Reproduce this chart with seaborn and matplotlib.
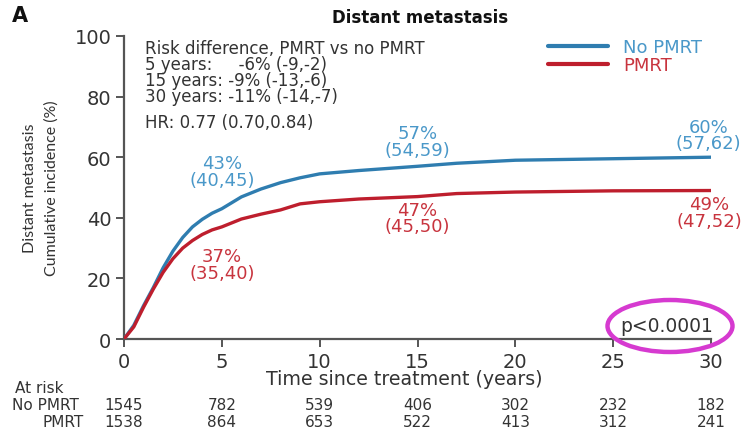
import numpy as np
import pandas as pd
import matplotlib
matplotlib.use("Agg")
import matplotlib.pyplot as plt
import matplotlib.transforms as mtransforms
from matplotlib.patches import Ellipse
import seaborn as sns

# Cumulative incidence curves (years, %)
years_no_pmrt = [0, 0.5, 1, 1.5, 2, 2.5, 3, 3.5, 4, 4.5, 5, 6, 7, 8, 9, 10, 12, 15, 17, 20, 25, 30]
inc_no_pmrt = [0, 4.5, 11, 17, 23.5, 29, 33.5, 37, 39.5, 41.5, 43, 46.9, 49.5, 51.6, 53.2, 54.5, 55.6, 57, 58, 59, 59.5, 60]
years_pmrt = [0, 0.5, 1, 1.5, 2, 2.5, 3, 3.5, 4, 4.5, 5, 6, 7, 8, 9, 10, 12, 15, 17, 20, 25, 30]
inc_pmrt = [0, 4, 10.5, 16.5, 22, 26.5, 30, 32.5, 34.5, 36, 37, 39.6, 41.2, 42.6, 44.6, 45.3, 46.2, 47, 48, 48.5, 48.9, 49]

# Point estimates with confidence intervals at 5, 15 and 30 years
milestone_years = [5, 15, 30]
est_no_pmrt = [43, 57, 60]
ci_no_pmrt = [(40, 45), (54, 59), (57, 62)]
est_pmrt = [37, 47, 49]
ci_pmrt = [(35, 40), (45, 50), (47, 52)]

# Numbers at risk
risk_years = [0, 5, 10, 15, 20, 25, 30]
at_risk_no_pmrt = [1545, 782, 539, 406, 302, 232, 182]
at_risk_pmrt = [1538, 864, 653, 522, 413, 312, 241]

x_ticks = [0, 5, 10, 15, 20, 25, 30]
y_ticks = [0, 20, 40, 60, 80, 100]

risk_lines = ["Risk difference, PMRT vs no PMRT",
              "5 years:     -6% (-9,-2)",
              "15 years: -9% (-13,-6)",
              "30 years: -11% (-14,-7)"]
hr_text = "HR: 0.77 (0.70,0.84)"

BLUE = "#2F7DB0"
RED = "#BE1E2D"
BLUE_TXT = "#4A98C9"
RED_TXT = "#C8343E"
INK = "#333333"

sns.set_style("ticks")
plt.rcParams["font.family"] = ["DejaVu Sans"]

W, H = 745, 431
fig = plt.figure(figsize=(W / 100, H / 100), dpi=100)


def fx(px):
    return px / W


def fy(py):
    return 1 - py / H


ax = fig.add_axes([fx(124), fy(340), fx(711) - fx(124), fy(37) - fy(340)])

df = pd.concat([
    pd.DataFrame({"years": years_no_pmrt, "incidence": inc_no_pmrt, "group": "No PMRT"}),
    pd.DataFrame({"years": years_pmrt, "incidence": inc_pmrt, "group": "PMRT"}),
])
sns.lineplot(data=df, x="years", y="incidence", hue="group",
             palette={"No PMRT": BLUE, "PMRT": RED}, linewidth=2.4,
             ax=ax, legend=True, zorder=3)

ax.set_xlim(0, 30)
ax.set_ylim(0, 100)
ax.set_xticks(x_ticks)
ax.set_yticks(y_ticks)
ax.set_xlabel("")
ax.set_ylabel("")
for side in ("top", "right"):
    ax.spines[side].set_visible(False)
for side in ("left", "bottom"):
    ax.spines[side].set_color("#555555")
    ax.spines[side].set_linewidth(1.6)
ax.tick_params(axis="both", length=6, width=1.4, color="#555555",
               labelsize=14, labelcolor=INK, pad=3)
ax.margins(0)

# Legend
handles, labels = ax.get_legend_handles_labels()
leg = ax.legend(handles, labels, loc="upper left",
                bbox_to_anchor=(fx(548), fy(39)), bbox_transform=fig.transFigure,
                frameon=False, fontsize=13, handlelength=3.3, handletextpad=0.85,
                labelspacing=0.0, borderpad=0, borderaxespad=0,
                labelcolor=[BLUE_TXT, RED_TXT])
for line in leg.get_lines():
    line.set_linewidth(3)

# Milestone labels
for t, est, ci, dy in zip(milestone_years, est_no_pmrt, ci_no_pmrt, [27, 18, 16]):
    ax.annotate(f"{est}%\n({ci[0]},{ci[1]})", xy=(t, est), xytext=(-2 if t == 30 else 0, dy),
                textcoords="offset points", ha="center", va="center",
                color=BLUE_TXT, fontsize=13, linespacing=0.9, annotation_clip=False)
for t, est, ci, dy in zip(milestone_years, est_pmrt, ci_pmrt, [-27, -15.5, -16]):
    ax.annotate(f"{est}%\n({ci[0]},{ci[1]})", xy=(t, est), xytext=(-1 if t == 30 else 0, dy),
                textcoords="offset points", ha="center", va="center",
                color=RED_TXT, fontsize=13, linespacing=0.9, annotation_clip=False)

# Risk difference block
fig.text(fx(145), fy(73), "\n".join(risk_lines), fontsize=12, color=INK,
         ha="left", va="center", linespacing=0.86)
fig.text(fx(145), fy(123), hr_text, fontsize=12, color=INK, ha="left", va="center")

# Title, panel letter, axis labels
fig.text(fx(420), fy(18), "Distant metastasis", fontsize=12, fontweight="bold",
         color="#111111", ha="center", va="center")
fig.text(fx(12), fy(16), "A", fontsize=15, fontweight="bold", color="#111111",
         ha="left", va="center")
fig.text(fx(41), fy(188), "Distant metastasis\nCumulative incidence (%)",
         rotation=90, family="Lato", fontsize=11.5, color=INK, ha="center",
         va="center", linespacing=1.7)
fig.text(fx(404), fy(380), "Time since treatment (years)", fontsize=13.7,
         color=INK, ha="center", va="center")

# p-value with highlight ellipse
fig.text(fx(713), fy(327), "p<0.0001", fontsize=13.5, color=INK, ha="right", va="center")
fig.add_artist(Ellipse((fx(670), fy(327)), fx(125), 52 / H, transform=fig.transFigure,
                       fill=False, edgecolor="#D63AD0", linewidth=3.2, clip_on=False))

# Numbers at risk table
trans = mtransforms.blended_transform_factory(ax.transData, fig.transFigure)
fig.text(fx(15), fy(389), "At risk", fontsize=11, color=INK, ha="left", va="center")
fig.text(fx(12), fy(406), "No PMRT", fontsize=11, color=INK, ha="left", va="center")
fig.text(fx(84), fy(423), "PMRT", fontsize=11, color=INK, ha="right", va="center")
for t, n1, n2 in zip(risk_years, at_risk_no_pmrt, at_risk_pmrt):
    ax.text(t, fy(406), str(n1), transform=trans, fontsize=11, color=INK,
            ha="center", va="center", clip_on=False)
    ax.text(t, fy(423), str(n2), transform=trans, fontsize=11, color=INK,
            ha="center", va="center", clip_on=False)

fig.savefig("out.png", dpi=100, facecolor="white")
